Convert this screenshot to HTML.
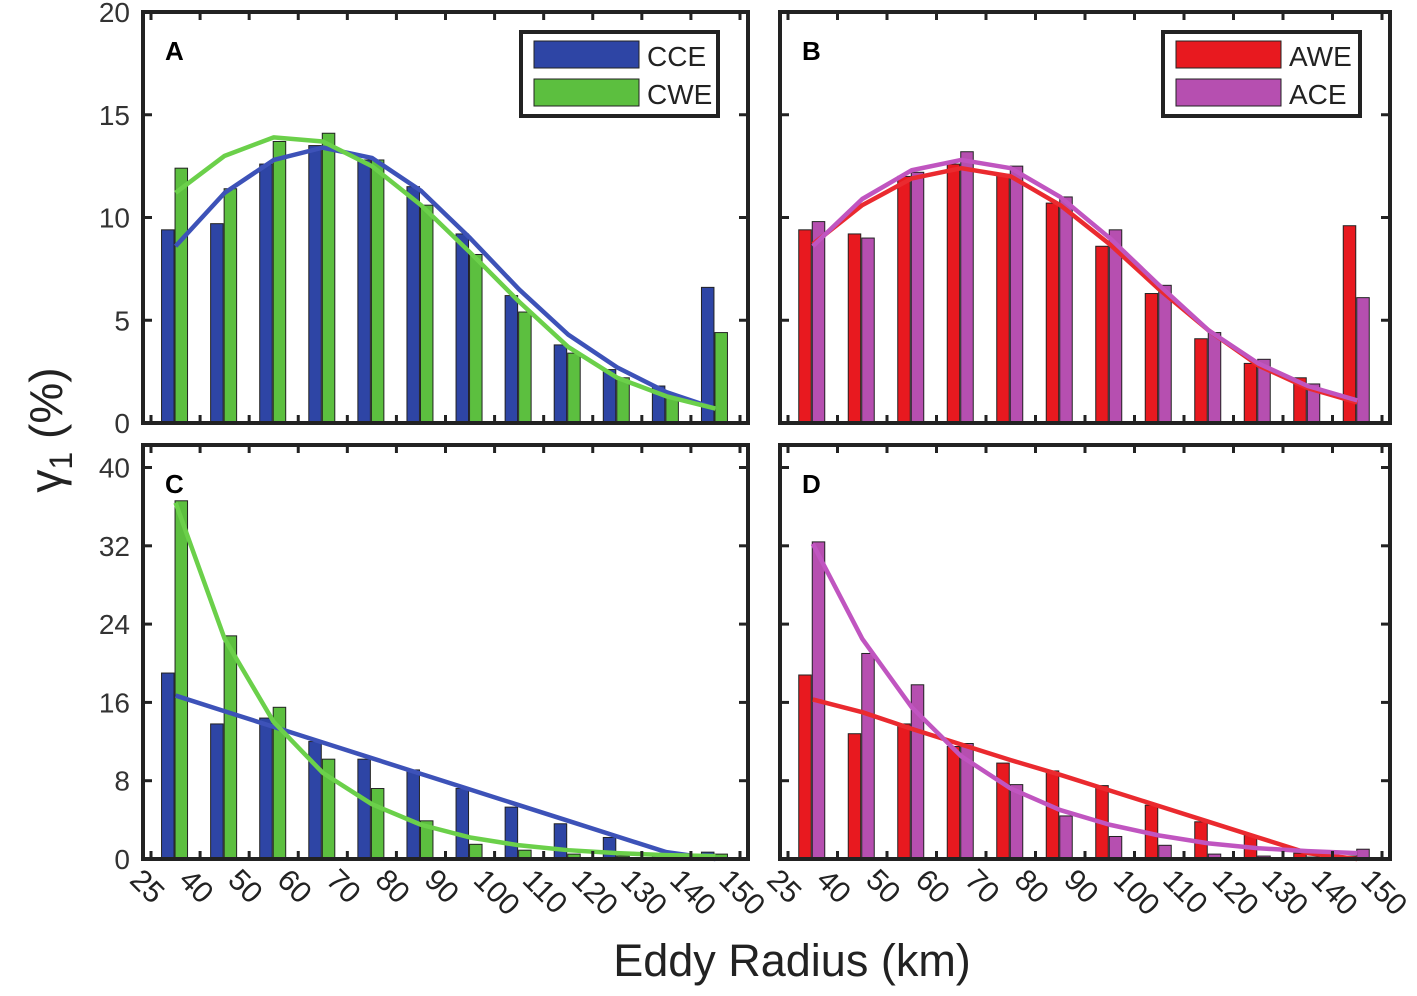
<!DOCTYPE html>
<html><head><meta charset="utf-8"><style>
body{margin:0;background:#fff;}
svg{display:block;font-family:"Liberation Sans",Arial,sans-serif;}
</style></head><body>
<svg id="fig" width="1417" height="996" viewBox="0 0 1417 996">
<text x="62" y="430" font-size="46" fill="#222" text-anchor="middle" transform="rotate(-90 62 430)">γ<tspan font-size="32" dy="10">1</tspan><tspan dy="-10"> (%)</tspan></text>
<text x="792" y="976" font-size="45" fill="#222" text-anchor="middle">Eddy Radius (km)</text>
</svg>
<script>
const tickLabels=["25","40","50","60","70","80","90","100","110","120","130","140","150"];
const ccePctA=[9.4,9.7,12.6,13.5,12.8,11.5,9.2,6.2,3.8,2.6,1.8,6.6];
const cwePctA=[12.4,11.4,13.7,14.1,12.8,10.6,8.2,5.4,3.4,2.2,1.3,4.4];
const cceFitA=[8.6,11.2,12.8,13.4,12.9,11.3,9.0,6.5,4.3,2.7,1.5,0.7];
const cweFitA=[11.2,13.0,13.9,13.7,12.5,10.6,8.3,5.9,3.7,2.2,1.3,0.7];
const awePctB=[9.4,9.2,12.0,12.6,12.1,10.7,8.6,6.3,4.1,2.9,2.2,9.6];
const acePctB=[9.8,9.0,12.2,13.2,12.5,11.0,9.4,6.7,4.4,3.1,1.9,6.1];
const aweFitB=[8.7,10.6,11.9,12.4,12.0,10.6,8.7,6.5,4.5,2.8,1.7,1.0];
const aceFitB=[8.6,10.9,12.3,12.8,12.4,11.0,9.0,6.7,4.5,2.9,1.8,1.1];
const ccePctC=[19.0,13.8,14.4,12.0,10.2,9.1,7.2,5.3,3.6,2.2,0.5,0.7];
const cwePctC=[36.6,22.8,15.5,10.2,7.2,3.9,1.5,0.9,0.5,0.3,0.2,0.5];
const cceFitC=[16.7,15.1,13.5,11.9,10.3,8.7,7.1,5.5,3.9,2.3,0.7,0.0];
const cweFitC=[36.4,22.5,14.0,8.8,5.6,3.5,2.2,1.4,0.9,0.6,0.4,0.3];
const awePctD=[18.8,12.8,13.8,11.5,9.8,9.0,7.5,5.5,3.8,2.4,0.6,0.3];
const acePctD=[32.4,21.0,17.8,11.8,7.6,4.4,2.3,1.4,0.5,0.3,0.2,1.0];
const aweFitD=[16.3,15.0,13.3,11.7,10.1,8.6,7.0,5.4,3.8,2.2,0.6,0.0];
const aceFitD=[32.2,22.5,15.5,10.5,7.2,5.0,3.5,2.4,1.6,1.1,0.8,0.6];
const yTicksTop=[0,5,10,15,20];
const yTicksBot=[0,8,16,24,32,40];

const NS="http://www.w3.org/2000/svg";
const svg=document.getElementById('fig');
function mk(t,a,p){const e=document.createElementNS(NS,t);for(const k in a)e.setAttribute(k,a[k]);(p||svg).appendChild(e);return e;}
const BLUE="#2e45a5",GREEN="#5cbf3f",RED="#e8191f",MAG="#b64fb0";
const GB="#3d52b8",GG="#6bd04a",GR="#ea2a2f",GM="#c055c0";

function panel(name,L,R,T,B,ymax,yticks,s1,s2,f1,f2,c1,c2,lc1,lc2,letter,legend){
  const g=mk('g',{});
  
  
  const x0=L+8,w=(R-L-16)/12;
  const xs=i=>x0+(i+0.5)*w;
  const ys=v=>B-(v/ymax)*(B-T);
  const bw=12.5;
  for(let i=0;i<12;i++){
    const r1=mk('rect',{x:xs(i)-bw-1.5,y:ys(s1[i]),width:bw,height:B-ys(s1[i]),fill:c1,stroke:'#222','stroke-width':1},g);
    
    
    const r2=mk('rect',{x:xs(i)-0.5,y:ys(s2[i]),width:bw,height:B-ys(s2[i]),fill:c2,stroke:'#222','stroke-width':1},g);
    
    
  }
  const pts=f=>f.map((v,i)=>xs(i)+','+ys(v)).join(' ');
  const l1=mk('polyline',{points:pts(f1),fill:'none',stroke:lc1,'stroke-width':4.5,'stroke-linejoin':'round'},g);
  
  
  const l2=mk('polyline',{points:pts(f2),fill:'none',stroke:lc2,'stroke-width':4.5,'stroke-linejoin':'round'},g);
  
  
  for(let j=0;j<13;j++){
    const x=x0+j*w;
    mk('line',{x1:x,y1:B,x2:x,y2:B-8,stroke:'#222','stroke-width':3},g);
    mk('line',{x1:x,y1:T,x2:x,y2:T+8,stroke:'#222','stroke-width':3},g);
    if(B>800){
      const t=mk('text',{x:x-17,y:B+17,'font-size':30,fill:'#222',transform:`rotate(45 ${x-17} ${B+17})`,'dominant-baseline':'middle'},g);
      t.textContent=tickLabels[j];
      
      
    }
  }
  yticks.forEach(v=>{
    const y=ys(v);
    mk('line',{x1:L,y1:y,x2:L+9,y2:y,stroke:'#222','stroke-width':3},g);
    mk('line',{x1:R,y1:y,x2:R-9,y2:y,stroke:'#222','stroke-width':3},g);
    if(L<500){
      const t=mk('text',{x:L-13,y:y+10,'font-size':28,fill:'#333','text-anchor':'end'},g);
      t.textContent=v;
      
      
    }
  });
  const fr=mk('rect',{x:L,y:T,width:R-L,height:B-T,fill:'none',stroke:'#222','stroke-width':4},g);
  
  
  const lt=mk('text',{x:L+22,y:T+48,'font-size':26,'font-weight':'bold',fill:'#000'},g);
  lt.textContent=letter;
  
  
  if(legend){
    const lx=R-227,ly=T+20;
    const lg=mk('g',{},g);
    
    
    mk('rect',{x:lx,y:ly,width:197,height:84,fill:'#fff',stroke:'#222','stroke-width':4},lg);
    [[c1,legend[0]],[c2,legend[1]]].forEach((e,k)=>{
      mk('rect',{x:lx+13,y:ly+9+k*38,width:105,height:27,fill:e[0],stroke:'#222','stroke-width':1},lg);
      const t=mk('text',{x:lx+126,y:ly+34+k*38,'font-size':28,fill:'#222'},lg);
      t.textContent=e[1];
      
      
    });
  }
}
panel('a',143,748,12,423,20,yTicksTop,ccePctA,cwePctA,cceFitA,cweFitA,BLUE,GREEN,GB,GG,'A',['CCE','CWE']);
panel('b',780,1390,12,423,20,yTicksTop,awePctB,acePctB,aweFitB,aceFitB,RED,MAG,GR,GM,'B',['AWE','ACE']);
panel('c',143,748,445,859,42.3,yTicksBot,ccePctC,cwePctC,cceFitC,cweFitC,BLUE,GREEN,GB,GG,'C',null);
panel('d',780,1390,445,859,42.3,yTicksBot,awePctD,acePctD,aweFitD,aceFitD,RED,MAG,GR,GM,'D',null);
</script>
</body></html>
